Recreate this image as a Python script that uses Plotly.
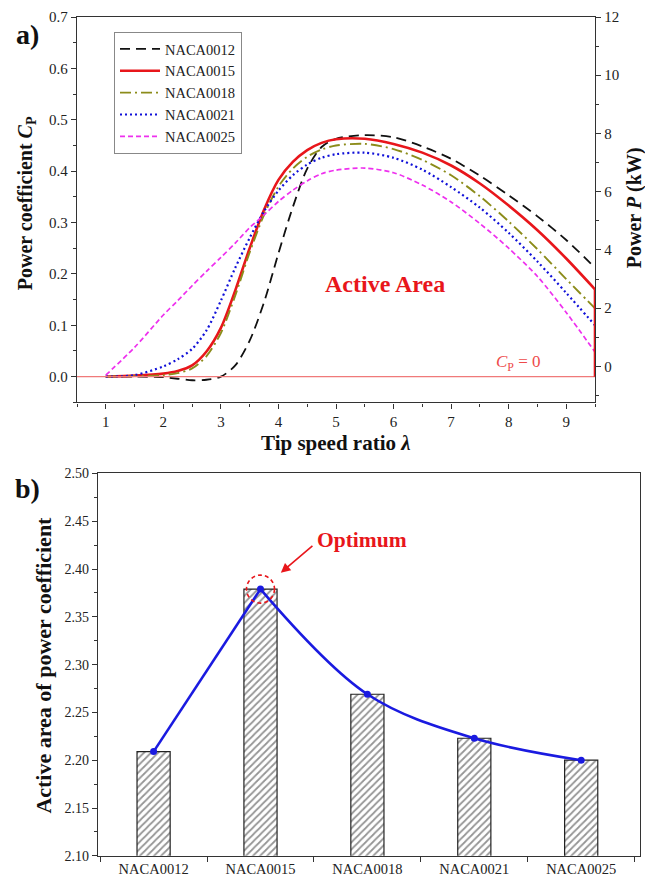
import plotly.graph_objects as go

# ---------------- data ----------------
lam = [1, 1.5, 2, 2.25, 2.5, 2.75, 3, 3.25, 3.5, 3.75, 4, 4.25, 4.5, 4.75, 5,
       5.5, 6, 6.5, 7, 7.5, 8, 8.5, 9, 9.5]
cp_0012 = [0.0, 0.0, -0.001, -0.004, -0.007, -0.006, 0.0, 0.022, 0.07, 0.145, 0.24,
           0.33, 0.405, 0.447, 0.463, 0.470, 0.466, 0.448, 0.424, 0.391, 0.353,
           0.312, 0.266, 0.212]
cp_0015 = [0.0, 0.002, 0.006, 0.011, 0.022, 0.049, 0.095, 0.168, 0.25, 0.325, 0.383,
           0.418, 0.441, 0.455, 0.462, 0.463, 0.453, 0.436, 0.411, 0.376, 0.333,
           0.285, 0.230, 0.170]
cp_0018 = [0.0, 0.001, 0.003, 0.007, 0.016, 0.04, 0.085, 0.158, 0.242, 0.315, 0.37,
           0.405, 0.428, 0.442, 0.45, 0.453, 0.443, 0.422, 0.392, 0.351, 0.302,
           0.248, 0.19, 0.133]
cp_0021 = [0.0, 0.003, 0.02, 0.034, 0.054, 0.09, 0.148, 0.212, 0.27, 0.322, 0.362,
           0.392, 0.413, 0.426, 0.433, 0.436, 0.426, 0.403, 0.369, 0.329, 0.28,
           0.224, 0.163, 0.10]
cp_0025 = [0.003, 0.057, 0.12, 0.148, 0.177, 0.205, 0.232, 0.26, 0.29, 0.315, 0.341,
           0.363, 0.381, 0.395, 0.402, 0.406, 0.397, 0.373, 0.340, 0.298, 0.25,
           0.195, 0.125, 0.048]

airfoils = ["NACA0012", "NACA0015", "NACA0018", "NACA0021", "NACA0025"]
active_area = [2.209, 2.379, 2.269, 2.223, 2.200]

cp_ticks = [0.0, 0.1, 0.2, 0.3, 0.4, 0.5, 0.6, 0.7]
p_ticks = [0, 2, 4, 6, 8, 10, 12]
lam_ticks = [1, 2, 3, 4, 5, 6, 7, 8, 9]

# ---------------- geometry helpers ----------------
# measured mapping of figure pixels to the photographed page
OFFX, OFFY, SY = 8, 14, 0.982
W, H = 653 - OFFX, 879
def px(x):
    return (x - OFFX) / W
def py(y):
    return 1 - ((y - OFFY) / SY) / H

FONT = "Liberation Serif"
RED = "#e8161b"

series = [
    ("NACA0012", cp_0012, "#111111", "10px,6px", 1.8),
    ("NACA0015", cp_0015, RED, "solid", 2.6),
    ("NACA0018", cp_0018, "#8c8c1a", "11px,4px,2px,4px", 1.9),
    ("NACA0021", cp_0021, "#1010d8", "2px,3px", 2.2),
    ("NACA0025", cp_0025, "#ee30ee", "5px,3px", 1.7),
]

fig = go.Figure()
for name, vals, col, dash, w in series:
    fig.add_trace(go.Scatter(
        x=lam, y=vals, name=name, mode="lines",
        line=dict(color=col, dash=dash, width=w, shape="spline", smoothing=0.8),
        xaxis="x", yaxis="y"))

# invisible trace to carry the right-hand power axis
fig.add_trace(go.Scatter(x=[lam[0]], y=[p_ticks[0]], mode="markers",
                         marker=dict(opacity=0), showlegend=False,
                         hoverinfo="skip", xaxis="x", yaxis="y3"))

# bottom panel: bars + line
fig.add_trace(go.Bar(
    x=airfoils, y=active_area, width=0.31, showlegend=False,
    marker=dict(color="white", line=dict(color="#222222", width=1.2),
                pattern=dict(shape="/", fgcolor="#2a2a2a", bgcolor="white",
                             size=5, solidity=0.35)),
    xaxis="x2", yaxis="y2"))
best = active_area.index(max(active_area))
BLUE = "#1a1ae0"
# rising part (straight) and falling part (smooth) of the connecting line
fig.add_trace(go.Scatter(
    x=airfoils[:best + 1], y=active_area[:best + 1], mode="lines",
    showlegend=False, line=dict(color=BLUE, width=2.6),
    xaxis="x2", yaxis="y2"))
fig.add_trace(go.Scatter(
    x=airfoils[best:], y=active_area[best:], mode="lines",
    showlegend=False, line=dict(color=BLUE, width=2.6, shape="spline", smoothing=1.0),
    xaxis="x2", yaxis="y2"))
fig.add_trace(go.Scatter(
    x=airfoils, y=active_area, mode="markers", showlegend=False,
    marker=dict(color=BLUE, size=7), xaxis="x2", yaxis="y2"))

axis_line = dict(showline=True, linecolor="#333333", linewidth=1.3,
                 ticks="outside", ticklen=5, tickcolor="#333333",
                 showgrid=False, zeroline=False,
                 tickfont=dict(family=FONT, size=15, color="#222222"))

fig.update_layout(
    width=W, height=H,
    margin=dict(l=0, r=0, t=0, b=0),
    paper_bgcolor="white", plot_bgcolor="white",
    font=dict(family=FONT, color="#222222"),
    xaxis=dict(domain=[px(77), px(595)], range=[0.5, 9.5], anchor="y",
               tickvals=lam_ticks, mirror=True,
               minor=dict(ticks="outside", ticklen=3, dtick=0.5, tick0=0.5,
                          tickcolor="#333333"),
               **axis_line),
    yaxis=dict(domain=[py(401), py(16)], range=[-0.05, 0.7], anchor="x",
               tickvals=cp_ticks, tickformat=".1f",
               minor=dict(ticks="outside", ticklen=3, dtick=0.05, tick0=0.05,
                          tickcolor="#333333"),
               **axis_line),
    yaxis3=dict(overlaying="y", side="right", anchor="x",
                range=[-1.238, 12], tickvals=p_ticks,
                minor=dict(ticks="outside", ticklen=3, dtick=1, tick0=1,
                           tickcolor="#333333"),
                **axis_line),
    xaxis2=dict(domain=[px(98), px(640)], anchor="y2", type="category",
                range=[-0.52, 4.55], mirror=True, tickson="boundaries",
                showline=True, linecolor="#333333", linewidth=1.3,
                ticks="outside", ticklen=5, tickcolor="#333333",
                showgrid=False, zeroline=False,
                tickfont=dict(family=FONT, size=14.5, color="#222222")),
    yaxis2=dict(domain=[py(854), py(472)], anchor="x2", range=[2.10, 2.50],
                dtick=0.05, tick0=2.10, tickformat=".2f", mirror=True,
                minor=dict(ticks="outside", ticklen=3, dtick=0.025,
                           tickcolor="#333333"),
                showline=True, linecolor="#333333", linewidth=1.3,
                ticks="outside", ticklen=5, tickcolor="#333333",
                showgrid=False, zeroline=False,
                tickfont=dict(family=FONT, size=14, color="#222222")),
    legend=dict(x=px(114), y=py(31), xanchor="left", yanchor="top",
                bgcolor="white", bordercolor="#888888", borderwidth=1,
                font=dict(family=FONT, size=14.5, color="#222222"),
                tracegroupgap=0, itemwidth=40),
)

# Cp = 0 reference line and active-area bound
fig.add_shape(type="line", xref="x domain", yref="y", x0=0, x1=1, y0=0, y1=0,
              line=dict(color="#f07a7a", width=1.2))
fig.add_shape(type="line", xref="x", yref="y", x0=lam[-1], x1=lam[-1],
              y0=0, y1=cp_0015[-1], line=dict(color=RED, width=2.6))

# dashed circle around optimum
fig.add_shape(type="circle", xref="x2", yref="y2",
              xsizemode="pixel", ysizemode="pixel",
              xanchor=airfoils[best], yanchor=active_area[best],
              x0=-14, x1=14, y0=-14, y1=14,
              line=dict(color=RED, width=1.6, dash="4px,3px"))

ann = []
def label(text, x, y, size, bold=False, color="#111111", angle=0, **kw):
    t = f"<b>{text}</b>" if bold else text
    ann.append(dict(text=t, x=x, y=y, xref=kw.pop("xref", "paper"),
                    yref=kw.pop("yref", "paper"), showarrow=False,
                    textangle=angle, xanchor="center", yanchor="middle",
                    font=dict(family=FONT, size=size, color=color), **kw))

label("a)", px(27), py(33), 28, bold=True)
label("b)", px(27), py(487), 28, bold=True)
label("Power coefficient <i>C</i><sub>P</sub>", px(26), py(202), 20, bold=True, angle=-90)
label("Power <i>P</i> (kW)", px(634), py(207), 20, bold=True, angle=-90)
label("Tip speed ratio <i>λ</i>", px(336), py(442), 21, bold=True)
label("Active area of power coefficient", px(44), py(664), 22, bold=True, angle=-90)
label("Active Area", 5.85, 0.181, 24, bold=True, color=RED, xref="x", yref="y")
label("<i>C</i><sub>P</sub> = 0", 8.17, 0.027, 17, color="#ee4a4a", xref="x", yref="y")
label("Optimum", 1.95, 2.4307, 21.5, bold=True, color=RED, xref="x2", yref="y2")

# arrow pointing to the optimum
ann.append(dict(text="", x=1.19, y=2.396, xref="x2", yref="y2",
                ax=1.5, ay=2.4255, axref="x2", ayref="y2",
                showarrow=True, arrowhead=2, arrowsize=1.2, arrowwidth=1.6,
                arrowcolor=RED))

fig.update_layout(annotations=ann)
fig.write_html("out.html")
